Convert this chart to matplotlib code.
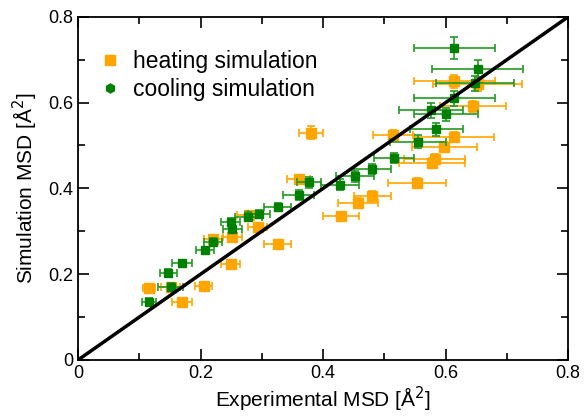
import numpy as np
import matplotlib.pyplot as plt
from matplotlib.lines import Line2D

plt.rcParams['font.family'] = ['Liberation Sans', 'DejaVu Sans']

# heating simulation: experimental MSD, x error, simulated MSD, y error
heat_x = [0.116, 0.151, 0.170, 0.205, 0.220, 0.249, 0.252, 0.279, 0.293, 0.326,
          0.360, 0.380, 0.429, 0.457, 0.480, 0.514, 0.553, 0.578, 0.582, 0.598,
          0.614, 0.645, 0.614, 0.652]
heat_xerr = [0.010, 0.015, 0.016, 0.014, 0.015, 0.016, 0.015, 0.020, 0.016, 0.022,
             0.019, 0.020, 0.030, 0.033, 0.030, 0.033, 0.047, 0.054, 0.050, 0.053,
             0.065, 0.054, 0.066, 0.072]
heat_y = [0.167, 0.171, 0.134, 0.173, 0.281, 0.223, 0.287, 0.337, 0.311, 0.271,
          0.421, 0.530, 0.335, 0.366, 0.383, 0.525, 0.412, 0.459, 0.469, 0.496,
          0.519, 0.591, 0.650, 0.643]
heat_yerr = [0.006, 0.006, 0.008, 0.008, 0.008, 0.008, 0.008, 0.008, 0.008, 0.008,
             0.010, 0.015, 0.010, 0.012, 0.012, 0.012, 0.012, 0.012, 0.012, 0.012,
             0.012, 0.012, 0.015, 0.015]

# cooling simulation
cool_x = [0.116, 0.147, 0.151, 0.170, 0.207, 0.220, 0.249, 0.252, 0.278, 0.295,
          0.326, 0.360, 0.377, 0.427, 0.452, 0.480, 0.516, 0.555, 0.585, 0.600,
          0.576, 0.614, 0.648, 0.652, 0.614]
cool_xerr = [0.011, 0.014, 0.020, 0.016, 0.015, 0.015, 0.016, 0.016, 0.022, 0.018,
             0.022, 0.025, 0.020, 0.031, 0.031, 0.030, 0.033, 0.046, 0.044, 0.052,
             0.053, 0.066, 0.064, 0.075, 0.066]
cool_y = [0.136, 0.203, 0.171, 0.225, 0.256, 0.276, 0.322, 0.306, 0.334, 0.340,
          0.357, 0.385, 0.414, 0.409, 0.428, 0.445, 0.470, 0.509, 0.538, 0.573,
          0.582, 0.610, 0.645, 0.679, 0.728]
cool_yerr = [0.008, 0.008, 0.008, 0.008, 0.008, 0.008, 0.010, 0.010, 0.010, 0.010,
             0.010, 0.012, 0.012, 0.012, 0.012, 0.012, 0.012, 0.015, 0.015, 0.015,
             0.017, 0.017, 0.017, 0.020, 0.026]

diag = [0.0, 0.8]

orange = '#ffa500'
green = '#008000'

fig = plt.figure(figsize=(5.87, 4.2), dpi=100)
ax = fig.add_axes([0.133, 0.143, 0.835, 0.817])

ax.errorbar(heat_x, heat_y, xerr=heat_xerr, yerr=heat_yerr, fmt='s', color=orange,
            ms=7.5, elinewidth=1.2, capsize=3, capthick=1.2, zorder=2)
ax.errorbar(cool_x, cool_y, xerr=cool_xerr, yerr=cool_yerr, fmt='s', color=green,
            ecolor='#229922', ms=5.5, elinewidth=1.2, capsize=3, capthick=1.2, zorder=3)
ax.plot(diag, diag, color='black', lw=2.5, zorder=4)

handles = [Line2D([], [], ls='none', marker='s', color=orange, ms=6.5),
           Line2D([], [], ls='none', marker='h', color=green, ms=6.5)]
ax.legend(handles, ['heating simulation', 'cooling simulation'], loc='upper left',
          frameon=False, fontsize=16.5, handlelength=0.8, handletextpad=0.6,
          borderaxespad=0.6, labelspacing=0.2, bbox_to_anchor=(0.0, 0.97))

ax.set_xlim(0, 0.8)
ax.set_ylim(0, 0.8)
ax.set_xticks([0, 0.2, 0.4, 0.6, 0.8])
ax.set_yticks([0, 0.2, 0.4, 0.6, 0.8])
ax.set_xticklabels(['0', '0.2', '0.4', '0.6', '0.8'])
ax.set_yticklabels(['0', '0.2', '0.4', '0.6', '0.8'])
ax.set_xticks(np.arange(0.1, 0.8, 0.2), minor=True)
ax.set_yticks(np.arange(0.1, 0.8, 0.2), minor=True)
ax.tick_params(which='both', direction='in', top=True, right=True, labelsize=13, width=1.2)
ax.tick_params(which='major', length=8)
ax.tick_params(which='minor', length=5)
for s in ax.spines.values():
    s.set_linewidth(1.3)

ax.set_xlabel('Experimental MSD [Å$^2$]', fontsize=15, labelpad=2)
ax.set_ylabel('Simulation MSD [Å$^2$]', fontsize=15, labelpad=6)

fig.savefig('out.png', dpi=100)
